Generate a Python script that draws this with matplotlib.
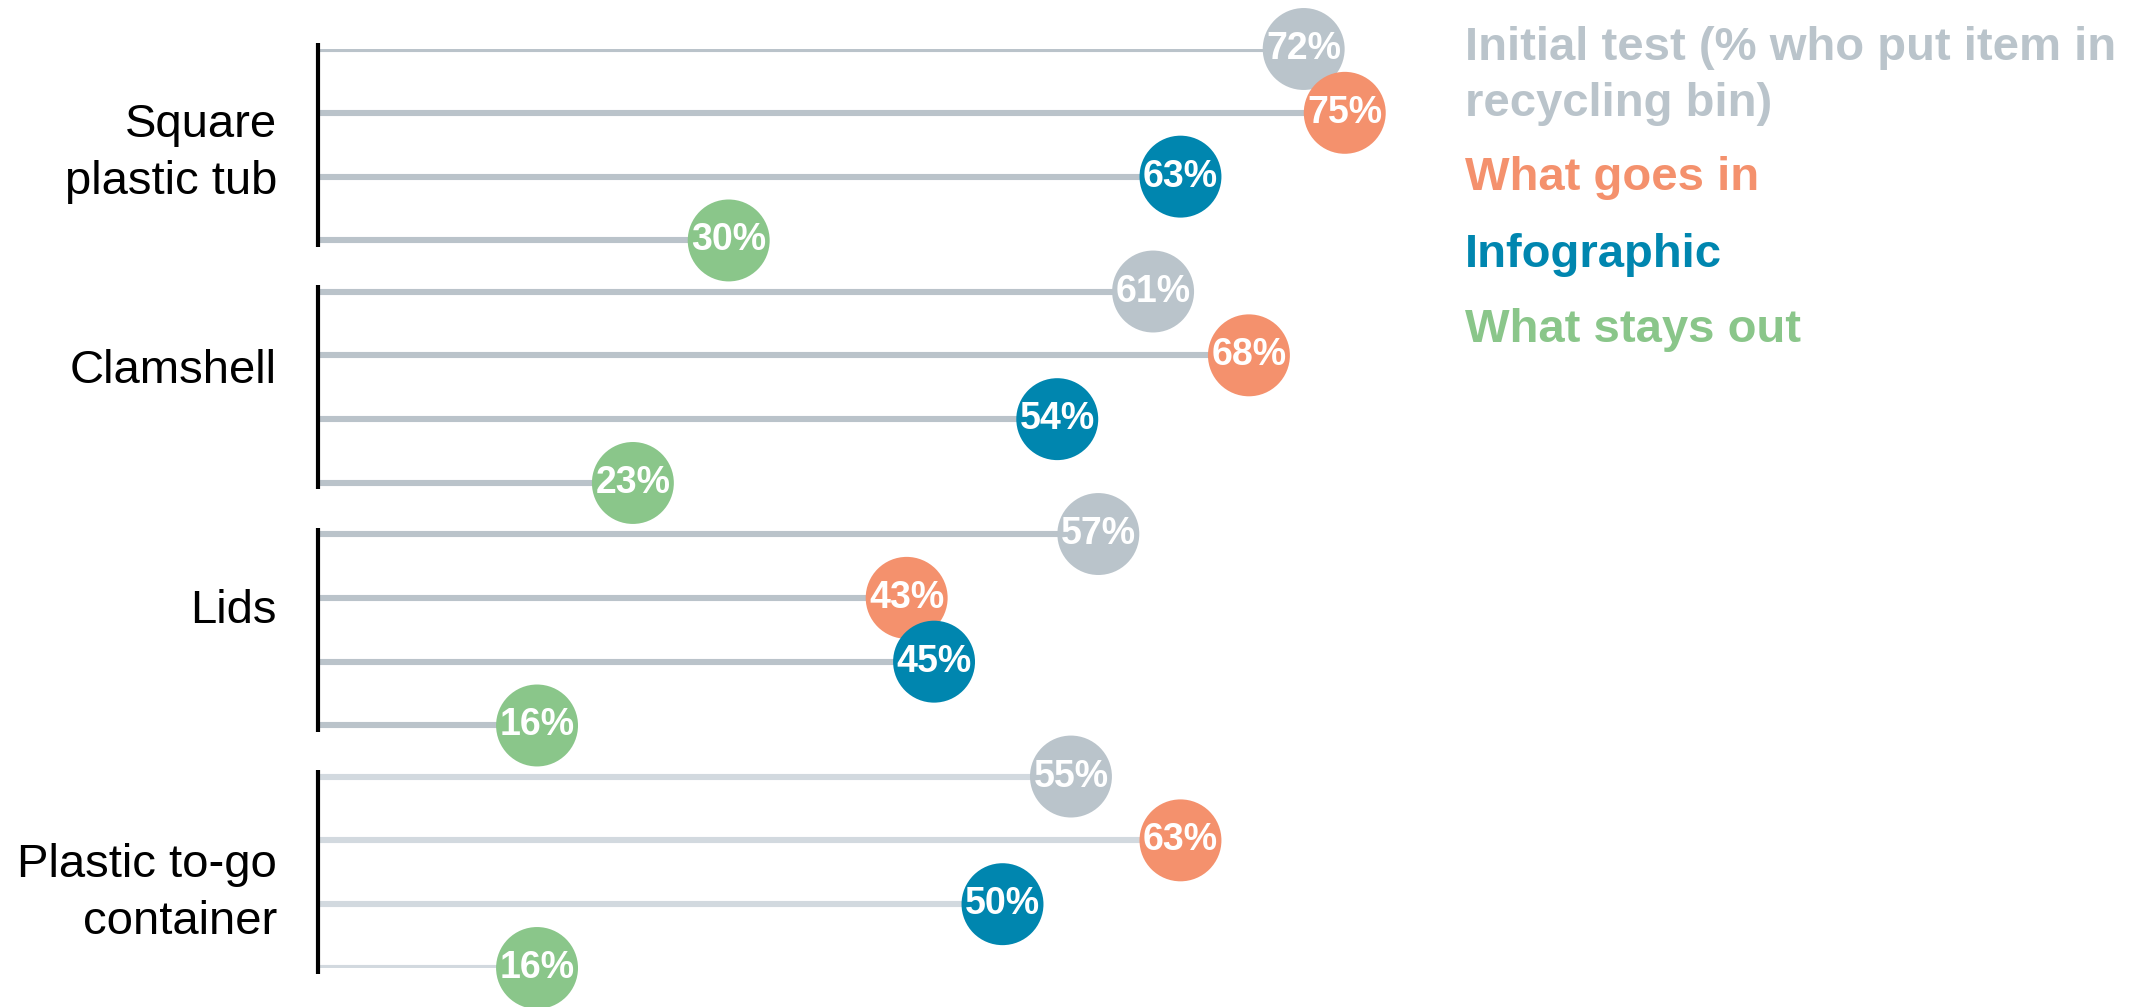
import numpy as np
import matplotlib.pyplot as plt
import matplotlib

matplotlib.rcParams['font.family'] = ['Liberation Sans', 'DejaVu Sans']

# survey results, % who put item in recycling bin
items = ["Square\nplastic tub", "Clamshell", "Lids", "Plastic to-go\ncontainer"]
series = ["Initial test (% who put item in\nrecycling bin)", "What goes in", "Infographic", "What stays out"]
initial_test = [72, 61, 57, 55]
what_goes_in = [75, 68, 43, 63]
infographic = [63, 54, 45, 50]
what_stays_out = [30, 23, 16, 16]

colors = ["#BAC4CB", "#F4916D", "#0086AF", "#8AC68A"]
stem_colors = ["#BAC3CA", "#BAC3CA", "#BAC3CA", "#D2D9DF"]
label_offsets = [1.64, 1.24, 1.2, 1.83]

values = np.array([initial_test, what_goes_in, infographic, what_stays_out]).T

fig = plt.figure(figsize=(21.47, 10.07), dpi=100)
W, H = 2147, 1007
x0, y_top, y_bot = 318, 49, 968
px_per_pct = 13.69
ax = fig.add_axes([x0 / W, 1 - y_bot / H, 100 * px_per_pct / W, (y_bot - y_top) / H])

group_step = 3.8
ax.set_xlim(0, 100)
ax.set_ylim(3 * group_step + 3, 0)
ax.axis('off')

for g, item in enumerate(items):
    base = g * group_step
    rows = base + np.arange(4)
    ax.plot([0, 0], [base - 0.1, base + 3.1], color='black', lw=3, solid_capstyle='butt', clip_on=False)
    ax.hlines(rows, 0, values[g], color=stem_colors[g], lw=4.4, zorder=1)
    ax.scatter(values[g], rows, s=3480, c=colors, zorder=2, clip_on=False, linewidths=0)
    for v, y in zip(values[g], rows):
        ax.text(v, y, f"{v}%", color='white', fontsize=27, fontweight='bold',
                ha='center', va='center', zorder=3)
    ax.text(-3.0, base + label_offsets[g], item, fontsize=34, ha='right', va='center',
            multialignment='right', linespacing=1.4)

# series key on the right
key_y = [76, 178, 255, 330]
for name, col, y in zip(series, colors, key_y):
    fig.text(1465 / W, 1 - y / H, name, color=col, fontsize=34, fontweight='bold',
             ha='left', va='center', linespacing=1.35)

fig.savefig("out.png", dpi=100)
